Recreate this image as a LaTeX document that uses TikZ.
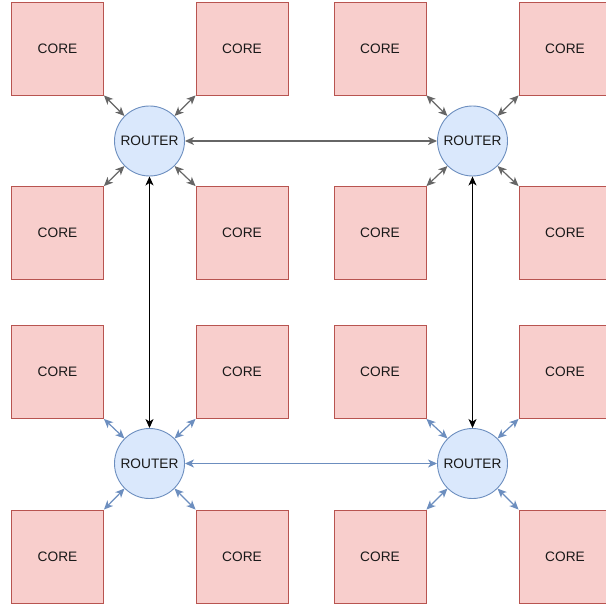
\documentclass[tikz,border=0pt]{standalone}
\usepackage{fontspec}
\setmainfont{Liberation Sans}
\usetikzlibrary{arrows.meta}
\definecolor{corefill}{HTML}{F8CECC}
\definecolor{coredraw}{HTML}{B85450}
\definecolor{routerfill}{HTML}{DAE8FC}
\definecolor{routerdraw}{HTML}{6C8EBF}
\definecolor{linkgray}{HTML}{666666}
\tikzset{
  core/.style={rectangle, draw=coredraw, fill=corefill, line width=0.9pt,
    minimum width=92pt, minimum height=93pt, inner sep=0pt,
    font=\fontsize{13.7pt}{15pt}\selectfont, text=black!90},
  router/.style={circle, draw=routerdraw, fill=routerfill, line width=0.9pt,
    minimum size=70pt, inner sep=0pt,
    font=\fontsize{13.7pt}{15pt}\selectfont, text=black!90},
  tip/.tip={Stealth[length=9pt,width=8pt,inset=2.5pt]},
  link/.style={line width=1.2pt, tip-tip},
  graylink/.style={link, draw=linkgray},
  bluelink/.style={link, draw=routerdraw},
  blacklink/.style={link, draw=black},
}
\begin{document}
\begin{tikzpicture}[x=1pt,y=-1pt]
\useasboundingbox (0,0) rectangle (605,609);
% cores, row by row
\foreach \r/\y in {1/48.5,2/233,3/372,4/556.5}{
  \foreach \c/\x in {1/57.5,2/242,3/380,4/565}{
    \node[core] (c\r\c) at (\x,\y) {CORE};
  }
}
% routers
\node[router] (rA) at (149.5,141) {ROUTER};
\node[router] (rB) at (472.5,141) {ROUTER};
\node[router] (rC) at (149.5,463.5) {ROUTER};
\node[router] (rD) at (472.5,463.5) {ROUTER};
% top routers to their cores
\draw[graylink] (c11.south east) -- (rA.135);
\draw[graylink] (c12.south west) -- (rA.45);
\draw[graylink] (c21.north east) -- (rA.225);
\draw[graylink] (c22.north west) -- (rA.315);
\draw[graylink] (c13.south east) -- (rB.135);
\draw[graylink] (c14.south west) -- (rB.45);
\draw[graylink] (c23.north east) -- (rB.225);
\draw[graylink] (c24.north west) -- (rB.315);
% bottom routers to their cores
\draw[bluelink] (c31.south east) -- (rC.135);
\draw[bluelink] (c32.south west) -- (rC.45);
\draw[bluelink] (c41.north east) -- (rC.225);
\draw[bluelink] (c42.north west) -- (rC.315);
\draw[bluelink] (c33.south east) -- (rD.135);
\draw[bluelink] (c34.south west) -- (rD.45);
\draw[bluelink] (c43.north east) -- (rD.225);
\draw[bluelink] (c44.north west) -- (rD.315);
% router to router links
\draw[graylink] (rA.east) -- (rB.west);
\draw[bluelink] (rC.east) -- (rD.west);
\draw[blacklink] (rA.south) -- (rC.north);
\draw[blacklink] (rB.south) -- (rD.north);
\end{tikzpicture}
\end{document}
